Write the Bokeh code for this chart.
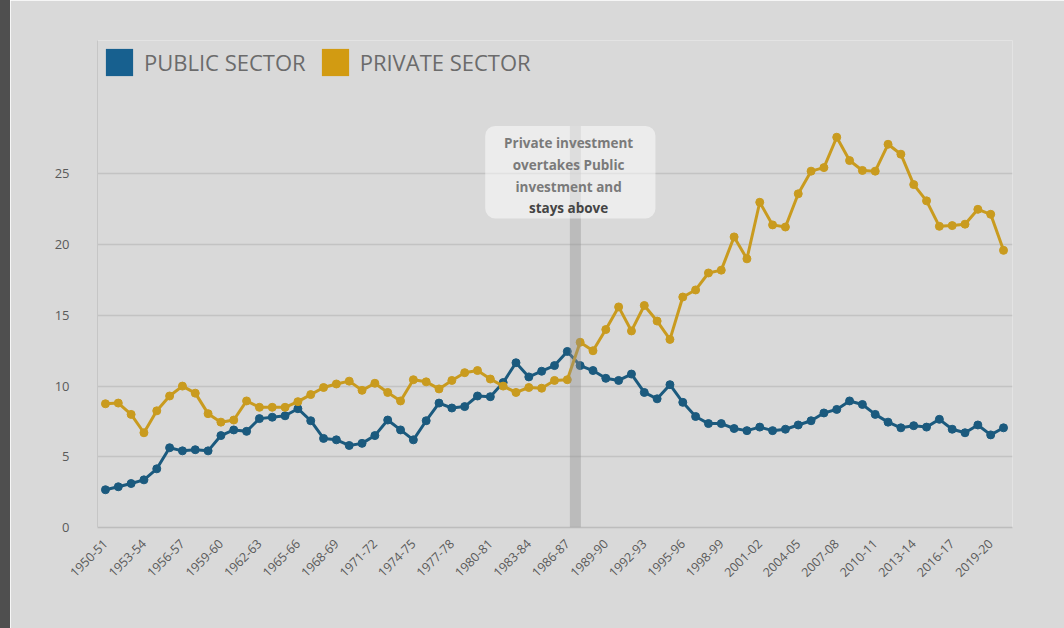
from math import pi
from bokeh.plotting import figure
from bokeh.layouts import row
from bokeh.models import (ColumnDataSource, FixedTicker, BoxAnnotation, Label,
                          Legend, LegendItem, Div)
from bokeh.embed import file_html
from bokeh.resources import INLINE

# ---------------- data ----------------
years = [f"{y}-{str(y + 1)[-2:]}" for y in range(1950, 2021)]  # 1950-51 .. 2020-21

public_sector = [
    2.67, 2.88, 3.11, 3.37, 4.15, 5.64, 5.42, 5.5, 5.42, 6.5,
    6.9, 6.8, 7.7, 7.8, 7.9, 8.4, 7.55, 6.3, 6.2, 5.8,
    5.95, 6.5, 7.6, 6.9, 6.2, 7.55, 8.8, 8.45, 8.55, 9.3,
    9.25, 10.25, 11.65, 10.65, 11.05, 11.45, 12.45, 11.45, 11.1, 10.55,
    10.4, 10.85, 9.55, 9.1, 10.1, 8.85, 7.85, 7.35, 7.35, 7.0,
    6.85, 7.1, 6.85, 6.95, 7.25, 7.55, 8.1, 8.35, 8.95, 8.7,
    8.0, 7.45, 7.05, 7.2, 7.1, 7.65, 6.95, 6.7, 7.25, 6.55,
    7.05,
]

private_sector = [
    8.75, 8.8, 8.0, 6.7, 8.25, 9.3, 10.0, 9.5, 8.05, 7.45,
    7.6, 8.95, 8.5, 8.5, 8.5, 8.9, 9.4, 9.9, 10.15, 10.35,
    9.7, 10.2, 9.55, 8.95, 10.45, 10.3, 9.8, 10.4, 10.95, 11.1,
    10.5, 10.0, 9.55, 9.9, 9.85, 10.4, 10.45, 13.1, 12.5, 14.0,
    15.6, 13.9, 15.7, 14.6, 13.3, 16.3, 16.8, 18.0, 18.2, 20.55,
    19.0, 23.0, 21.4, 21.25, 23.6, 25.2, 25.45, 27.6, 25.95, 25.25,
    25.2, 27.1, 26.4, 24.25, 23.1, 21.3, 21.35, 21.45, 22.5, 22.15,
    19.6,
]

tick_labels = ["1950-51", "1953-54", "1956-57", "1959-60", "1962-63", "1965-66",
               "1968-69", "1971-72", "1974-75", "1977-78", "1980-81", "1983-84",
               "1986-87", "1989-90", "1992-93", "1995-96", "1998-99", "2001-02",
               "2004-05", "2007-08", "2010-11", "2013-14", "2016-17", "2019-20"]

y_ticks = [0, 5, 10, 15, 20, 25]
series_names = ["PUBLIC SECTOR", "PRIVATE SECTOR"]
annotation_lines = ["Private investment", "overtakes Public", "investment and", "stays above"]
annotation_year = "1986-87"

# ---------------- styling ----------------
PUB = "#1b5a7e"
PRI = "#c99b1f"
PUB_LEG = "#17608f"
PRI_LEG = "#d29b12"
BG = "#d9d9d9"
TXT = "#5a5a5a"
FONT = "Open Sans"

idx = list(range(len(years)))
src = ColumnDataSource(dict(x=idx, year=years, pub=public_sector, pri=private_sector))

p = figure(width=1054, height=628, x_range=(-0.62, 70.7), y_range=(0, 34.44),
           output_backend="svg", toolbar_location=None,
           min_border_left=87, min_border_right=52, min_border_top=40, min_border_bottom=101,
           margin=0)
p.background_fill_color = BG
p.border_fill_color = BG
p.outline_line_color = None

# grid
p.xgrid.visible = False
p.ygrid.ticker = FixedTicker(ticks=y_ticks)
p.ygrid.grid_line_color = "#c3c3c3"
p.ygrid.grid_line_width = 1.5

# y axis
p.yaxis.ticker = FixedTicker(ticks=y_ticks)
p.yaxis.major_tick_line_color = None
p.yaxis.minor_tick_line_color = None
p.yaxis.axis_line_color = "#c6c6c6"
p.yaxis.major_label_text_color = TXT
p.yaxis.major_label_text_font = FONT
p.yaxis.major_label_text_font_size = "13px"
p.yaxis.major_label_standoff = 22

# x axis
tick_pos = [years.index(t) for t in tick_labels]
p.xaxis.ticker = FixedTicker(ticks=tick_pos)
p.xaxis.major_label_overrides = {pos: lab for pos, lab in zip(tick_pos, tick_labels)}
p.xaxis.major_label_orientation = pi / 4
p.xaxis.major_tick_line_color = None
p.xaxis.minor_tick_line_color = None
p.xaxis.axis_line_color = "#bdbdbd"
p.xaxis.axis_line_width = 1.5
p.xaxis.major_label_text_color = TXT
p.xaxis.major_label_text_font = FONT
p.xaxis.major_label_text_font_size = "12.5px"
p.xaxis.major_label_standoff = 8

# annotation band and box
ai = years.index(annotation_year)
p.add_layout(BoxAnnotation(left=ai + 0.2, right=ai + 1.06, bottom=0, top=28.4,
                           fill_color="#8f8f8f", fill_alpha=0.4, line_color=None))
p.add_layout(BoxAnnotation(left=ai - 6.4, right=ai + 6.87, bottom=21.85, top=28.4,
                           fill_color="white", fill_alpha=0.5, line_color=None,
                           border_radius=10))
line_y = [27.2, 25.64, 24.08, 22.6]
for k, (txt, yy) in enumerate(zip(annotation_lines, line_y)):
    p.add_layout(Label(x=ai + 0.1, y=yy, text=txt, text_align="center", text_baseline="middle",
                       text_font=FONT, text_font_size="13.5px", text_font_style="bold",
                       text_color="#444444" if k == 3 else "#7a7a7a"))

# series
r_pub = p.line("x", "pub", source=src, line_color=PUB, line_width=3)
p.scatter("x", "pub", source=src, size=8, fill_color=PUB, line_color=PUB)
r_pri = p.line("x", "pri", source=src, line_color=PRI, line_width=3)
p.scatter("x", "pri", source=src, size=8, fill_color=PRI, line_color=PRI)

# legend swatches
leg_pub = p.rect(x=[0], y=[0], width=0, height=0, fill_color=PUB_LEG, line_color=None)
leg_pri = p.rect(x=[0], y=[0], width=0, height=0, fill_color=PRI_LEG, line_color=None)
legend = Legend(items=[LegendItem(label=series_names[0], renderers=[leg_pub]),
                       LegendItem(label=series_names[1], renderers=[leg_pri])],
                orientation="horizontal", location="top_left",
                glyph_width=34, glyph_height=34, label_standoff=8, spacing=12,
                margin=5, padding=5, background_fill_alpha=0, border_line_color=None,
                label_text_font=FONT, label_text_font_size="22px", label_text_color="#6b6b6b")
p.add_layout(legend)

strip = Div(width=10, height=628, margin=0, styles={"background-color": "#4f4f4f"})
layout = row(strip, p, spacing=0, margin=0)

open("out.html", "w").write(file_html(layout, INLINE))
